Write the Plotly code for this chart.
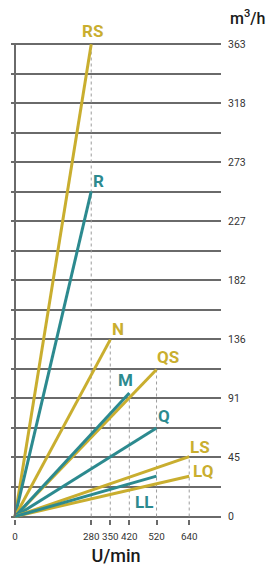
import plotly.graph_objects as go

# ---- data ----
series_names = ["RS", "R", "N", "QS", "M", "Q", "LS", "LQ", "LL"]
series_rpm = [280, 280, 350, 520, 420, 520, 640, 640, 520]
series_flow = [363, 250, 136, 113, 95, 68, 46, 31, 31]
series_group = ["gold", "teal", "gold", "gold", "teal", "teal", "gold", "gold", "teal"]

x_tick_vals = [0, 280, 350, 420, 520, 640]
y_max = 363
y_tick_vals = [y_max * k / 8 for k in range(9)]
y_tick_text = ["0", "45", "91", "136", "182", "227", "273", "318", "363"]

# ---- styles ----
COLORS = {"gold": "#C9AE2F", "teal": "#2C8A8F"}
GRID = "#6A6A6A"
FONT = "Roboto, Liberation Sans, sans-serif"
label_offsets = {
    "RS": (1, 13), "R": (7, 10), "N": (8, 11), "QS": (11, 13), "M": (-4, 13),
    "Q": (7, 12), "LS": (11, 10), "LQ": (14, 5), "LL": (-13, -26),
}

fig = go.Figure()

# dashed verticals at each end speed, up to the highest series ending there
ends = {}
for r, f in zip(series_rpm, series_flow):
    ends[r] = max(ends.get(r, 0), f)
for r, f in ends.items():
    fig.add_trace(go.Scatter(
        x=[r, r], y=[0, f], mode="lines",
        line=dict(color="#9C9C9C", width=1, dash="3px,3px"),
        hoverinfo="skip", showlegend=False,
    ))

# characteristic lines
for name, r, f, g in zip(series_names, series_rpm, series_flow, series_group):
    fig.add_trace(go.Scatter(
        x=[0, r], y=[0, f], mode="lines", name=name,
        line=dict(color=COLORS[g], width=3),
        showlegend=False, cliponaxis=False,
    ))
    dx, dy = label_offsets[name]
    fig.add_annotation(
        x=r, y=f, text=name, showarrow=False, xshift=dx, yshift=dy,
        font=dict(family=FONT, size=17, color=COLORS[g], weight="bold"),
    )

# left vertical axis line
fig.add_shape(type="line", xref="x", yref="y", x0=0, x1=0, y0=0, y1=y_max,
              line=dict(color=GRID, width=2))

fig.add_annotation(
    xref="paper", x=1, xanchor="left", xshift=7, y=y_max, yshift=27,
    text="m<sup>3</sup>/h", showarrow=False,
    font=dict(family=FONT, size=16, color="#1a1a1a", weight=500),
)

fig.update_layout(
    width=269, height=569,
    margin=dict(l=11, r=48, t=40, b=50),
    paper_bgcolor="white", plot_bgcolor="white",
    font=dict(family=FONT, color="#333333"),
    xaxis=dict(
        range=[-14.7, 756.8], tickvals=x_tick_vals, tickangle=0,
        showgrid=False, zeroline=False, showline=False, automargin=False,
        ticks="outside", ticklen=5, tickwidth=1.5, tickcolor=GRID,
        ticklabelstandoff=3,
        tickfont=dict(size=9.8, color="#333333"),
        title=dict(text="U/min", font=dict(size=18, color="#1a1a1a", weight=500), standoff=8),
        fixedrange=True,
    ),
    yaxis=dict(
        range=[-1.92, 366.3], side="right", automargin=False,
        tickvals=y_tick_vals, ticktext=y_tick_text,
        showgrid=True, gridcolor=GRID, gridwidth=1.6,
        zeroline=False, showline=False, ticks="",
        ticklabelstandoff=6,
        tickfont=dict(size=10.5, color="#333333"),
        minor=dict(tick0=0, dtick=y_max / 16, showgrid=True, gridcolor=GRID, gridwidth=1.6),
        fixedrange=True,
    ),
)

fig.write_html(
    "out.html",
    config={"displayModeBar": False},
    post_script="document.body.style.margin='0';document.body.style.padding='0';",
)
